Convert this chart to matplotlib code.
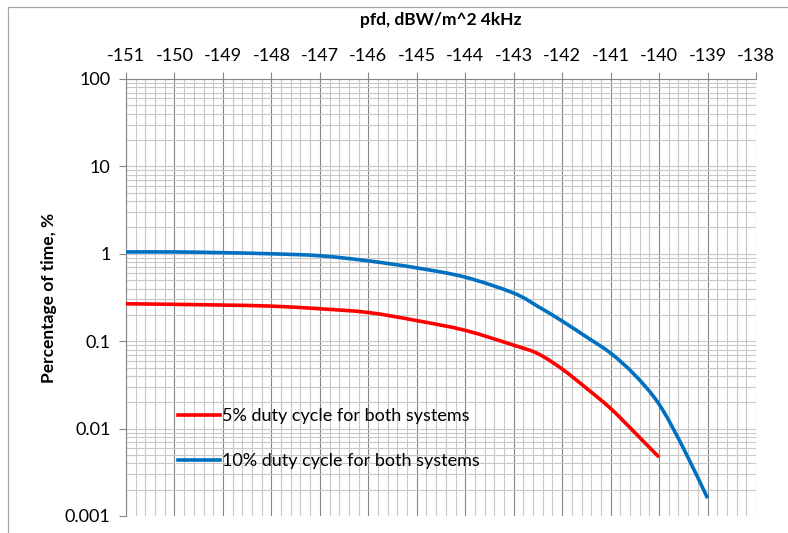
import numpy as np
import matplotlib
matplotlib.use("Agg")
import matplotlib.pyplot as plt
from matplotlib.patches import Rectangle, PathPatch
from matplotlib.path import Path
from matplotlib.lines import Line2D
from matplotlib.ticker import LogLocator, MultipleLocator, FixedLocator, FuncFormatter

plt.rcParams['font.family'] = ['Lato', 'DejaVu Sans']
plt.rcParams['axes.unicode_minus'] = False

# pfd (dBW/m^2 in 4 kHz) vs percentage of time exceeded
pfd_5 = [-151, -150, -149, -148, -147, -146, -145, -144, -143, -142.5,
         -142, -141.5, -141, -140.5, -140]
pct_5 = [0.268, 0.264, 0.259, 0.252, 0.235, 0.213, 0.172, 0.133, 0.090, 0.072,
         0.048, 0.029, 0.0170, 0.0090, 0.0047]

pfd_10 = [-151, -150, -149, -148, -147, -146, -145, -144, -143, -142.5,
          -142, -141.5, -141, -140.5, -140, -139.5, -139]
pct_10 = [1.05, 1.05, 1.03, 1.00, 0.95, 0.83, 0.69, 0.54, 0.355, 0.25,
          0.170, 0.112, 0.073, 0.041, 0.019, 0.0060, 0.0016]

series_labels = ["5% duty cycle for both systems",
                 "10% duty cycle for both systems"]
series_colors = ['#ff0000', '#0070c0']
x_ticks = list(range(-151, -137))
y_ticks = [0.001, 0.01, 0.1, 1, 10, 100]


def smooth_path(xs, ys):
    """Catmull-Rom style cubic Bezier through the points, built in log-y space."""
    x = np.asarray(xs, float)
    ly = np.log10(np.asarray(ys, float))
    n = len(x)
    verts = [(x[0], ly[0])]
    codes = [Path.MOVETO]
    for i in range(n - 1):
        p0 = (x[max(i - 1, 0)], ly[max(i - 1, 0)])
        p1 = (x[i], ly[i])
        p2 = (x[i + 1], ly[i + 1])
        p3 = (x[min(i + 2, n - 1)], ly[min(i + 2, n - 1)])
        c1 = (p1[0] + (p2[0] - p0[0]) / 6, p1[1] + (p2[1] - p0[1]) / 6)
        c2 = (p2[0] - (p3[0] - p1[0]) / 6, p2[1] - (p3[1] - p1[1]) / 6)
        verts += [c1, c2, p2]
        codes += [Path.CURVE4] * 3
    verts = [(vx, 10 ** vy) for vx, vy in verts]
    return Path(verts, codes)


fig = plt.figure(figsize=(7.88, 5.33), dpi=100)
fig.patches.append(Rectangle((8 / 788, -0.1), 1.1, 1 - 7 / 533 + 0.1,
                             transform=fig.transFigure, fill=False,
                             edgecolor='#a6a6a6', linewidth=0.9))

ax = fig.add_axes([126 / 788, 1 - 516 / 533, 630 / 788, 437 / 533])

for xs, ys, col in [(pfd_5, pct_5, series_colors[0]),
                    (pfd_10, pct_10, series_colors[1])]:
    ax.add_patch(PathPatch(smooth_path(xs, ys), facecolor='none',
                           edgecolor=col, lw=2.6, capstyle='butt', zorder=3))

ax.set_yscale('log')
ax.set_ylim(0.001, 100)
ax.set_xlim(-151, -138)

ax.xaxis.set_major_locator(FixedLocator(x_ticks))
ax.xaxis.set_minor_locator(MultipleLocator(0.2))
ax.yaxis.set_major_locator(FixedLocator(y_ticks))
ax.yaxis.set_minor_locator(LogLocator(base=10, subs=np.arange(2, 10)))
ax.yaxis.set_major_formatter(FuncFormatter(lambda v, p: f"{v:g}"))
ax.yaxis.set_minor_formatter(FuncFormatter(lambda v, p: ""))

ax.grid(True, which='major', axis='x', color='#868686', lw=0.8)
ax.grid(True, which='minor', axis='x', color='#c8c8c8', lw=0.8)
ax.grid(True, which='both', axis='y', color='#c8c8c8', lw=0.8)
ax.set_axisbelow(True)

ax.xaxis.tick_top()
ax.xaxis.set_label_position('top')
ax.tick_params(axis='x', which='major', direction='out', length=5,
               color='#868686', labelsize=13, pad=6)
ax.tick_params(axis='x', which='minor', length=0)
ax.tick_params(axis='y', which='major', direction='out', length=5,
               color='#868686', labelsize=13, pad=6)
ax.tick_params(axis='y', which='minor', length=0)

for side in ('right', 'bottom'):
    ax.spines[side].set_visible(False)
for side in ('left', 'top'):
    ax.spines[side].set_color('#868686')
    ax.spines[side].set_linewidth(0.8)

ax.set_xlabel("pfd, dBW/m^2 4kHz", fontsize=12.5, fontweight='bold', labelpad=16)
ax.set_ylabel("Percentage of time, %", fontsize=12.5, fontweight='bold', labelpad=6)

handles = [Line2D([], [], color=c, lw=2.6) for c in series_colors]
ax.legend(handles, series_labels, loc='upper left',
          bbox_to_anchor=(162 / 788, 1 - 392 / 533),
          bbox_transform=fig.transFigure, frameon=False, fontsize=13,
          handlelength=2.3, handletextpad=0.15, labelspacing=1.6)

fig.savefig("out.png", dpi=100)
